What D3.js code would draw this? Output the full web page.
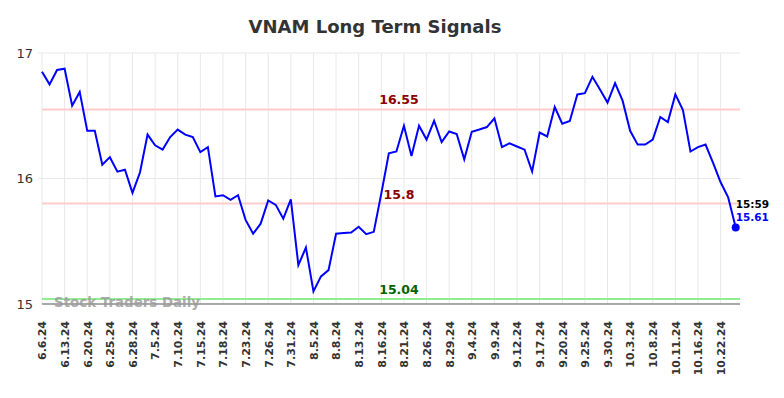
<!DOCTYPE html>
<html><head><meta charset="utf-8">
<script src="https://cdn.jsdelivr.net/npm/d3@7"></script>
<style>body{margin:0;background:#fff;} svg{display:block;}</style>
</head><body>
<svg id="c" width="784" height="398"></svg>
<script>
const values = [16.85,16.75,16.865,16.875,16.58,16.69,16.38,16.38,16.11,16.17,
16.055,16.07,15.885,16.05,16.35,16.265,16.23,16.33,16.39,16.35,
16.33,16.21,16.25,15.857,15.867,15.83,15.867,15.67,15.56,15.64,
15.825,15.79,15.68,15.833,15.31,15.45,15.10,15.22,15.27,15.56,
15.565,15.57,15.615,15.556,15.575,15.88,16.20,16.215,16.42,16.18,
16.42,16.31,16.46,16.29,16.375,16.355,16.153,16.373,16.39,16.41,
16.48,16.25,16.28,16.255,16.23,16.056,16.366,16.335,16.57,16.437,
16.458,16.67,16.68,16.81,16.71,16.605,16.76,16.62,16.38,16.27,
16.27,16.31,16.49,16.45,16.67,16.545,16.215,16.25,16.27,16.125,
15.97,15.85,15.61];
const tickLabels = ["6.6.24","6.13.24","6.20.24","6.25.24","6.28.24","7.5.24","7.10.24","7.15.24","7.18.24","7.23.24","7.26.24","7.31.24","8.5.24","8.8.24","8.13.24","8.16.24","8.21.24","8.26.24","8.29.24","9.4.24","9.9.24","9.12.24","9.17.24","9.20.24","9.25.24","9.30.24","10.3.24","10.8.24","10.11.24","10.16.24","10.22.24"];
const tickStep = 3;
const yTicks = [15,16,17];
const levels = [
  {v:16.55, label:"16.55", line:"#ffcccc", text:"#8b0000"},
  {v:15.8, label:"15.8", line:"#ffcccc", text:"#8b0000"},
  {v:15.04, label:"15.04", line:"#90ee90", text:"#006400"}
];
const title = "VNAM Long Term Signals";
const lastTime = "15:59";
const watermark = "Stock Traders Daily";

const svg = d3.select("#c");
const L = 42, R = 740, T = 53, B = 304;
const x = d3.scaleLinear().domain([0, values.length-1]).range([L, 735.7]);
const y = d3.scaleLinear().domain([15,17]).range([B, T]);

svg.append("text").attr("x", 375).attr("y", 33).attr("text-anchor","middle")
  .attr("font-family","DejaVu Sans, sans-serif").attr("font-weight","bold")
  .attr("font-size", 18).attr("fill","#333").text(title);

const tickIdx = tickLabels.map((d,i)=>i*tickStep);
// vertical grid
svg.append("g").selectAll("line").data(tickIdx).join("line")
  .attr("x1", d=>x(d)).attr("x2", d=>x(d)).attr("y1", T).attr("y2", B)
  .attr("stroke","#e8e8e8").attr("stroke-width",1);
// horizontal grid
svg.append("g").selectAll("line").data(yTicks.filter(d=>d>15)).join("line")
  .attr("x1", L-4).attr("x2", R).attr("y1", d=>y(d)).attr("y2", d=>y(d))
  .attr("stroke","#e8e8e8").attr("stroke-width",1);

// y axis labels
const yAxis = d3.axisLeft(y).tickValues(yTicks).tickSize(0).tickPadding(9).tickFormat(d3.format("d"));
const gy = svg.append("g").attr("transform",`translate(${L},0)`).call(yAxis);
gy.select(".domain").remove();
gy.selectAll("text").attr("font-family","DejaVu Sans, sans-serif").attr("font-size",13).attr("fill","#333");

// x axis
const xAxis = d3.axisBottom(x).tickValues(tickIdx).tickSize(0).tickFormat((d,i)=>tickLabels[i]);
const gx = svg.append("g").attr("transform",`translate(0,${B})`).call(xAxis);
gx.select(".domain").remove();
gx.selectAll("text").attr("font-family","DejaVu Sans, sans-serif").attr("font-weight","bold")
  .attr("font-size",11).attr("fill","#333")
  .attr("transform","rotate(-90)").attr("text-anchor","end")
  .attr("x", -17).attr("y", 0).attr("dy","0.35em");

// levels
levels.forEach(l=>{
  svg.append("line").attr("x1",L).attr("x2",R).attr("y1",y(l.v)).attr("y2",y(l.v))
    .attr("stroke",l.line).attr("stroke-width",2);
});
svg.append("line").attr("x1",L).attr("x2",R).attr("y1",B).attr("y2",B).attr("stroke","#555").attr("stroke-width",1.2);

svg.append("text").attr("x",54).attr("y",307).attr("font-family","DejaVu Sans, sans-serif")
  .attr("font-weight","bold").attr("font-size",13.4).attr("fill","#999").attr("opacity",0.8).text(watermark);

levels.forEach(l=>{
  svg.append("text").attr("x",399).attr("y",y(l.v)-5).attr("text-anchor","middle")
    .attr("font-family","DejaVu Sans, sans-serif").attr("font-weight","bold").attr("font-size",12.5)
    .attr("fill",l.text).text(l.label);
});

// line
svg.append("path").datum(values)
  .attr("d", d3.line().x((d,i)=>x(i)).y(d=>y(d)))
  .attr("fill","none").attr("stroke","#0000ff").attr("stroke-width",2);

const li = values.length-1;
svg.append("circle").attr("cx",x(li)).attr("cy",y(values[li])).attr("r",4).attr("fill","#0000ff");
svg.append("text").attr("x",x(li)).attr("y",y(values[li])-19).attr("font-family","DejaVu Sans, sans-serif")
  .attr("font-weight","bold").attr("font-size",10.5).attr("fill","#000").text(lastTime);
svg.append("text").attr("x",x(li)).attr("y",y(values[li])-6).attr("font-family","DejaVu Sans, sans-serif")
  .attr("font-weight","bold").attr("font-size",10.5).attr("fill","#0000ff").text(values[li].toFixed(2));
</script>
</body></html>
